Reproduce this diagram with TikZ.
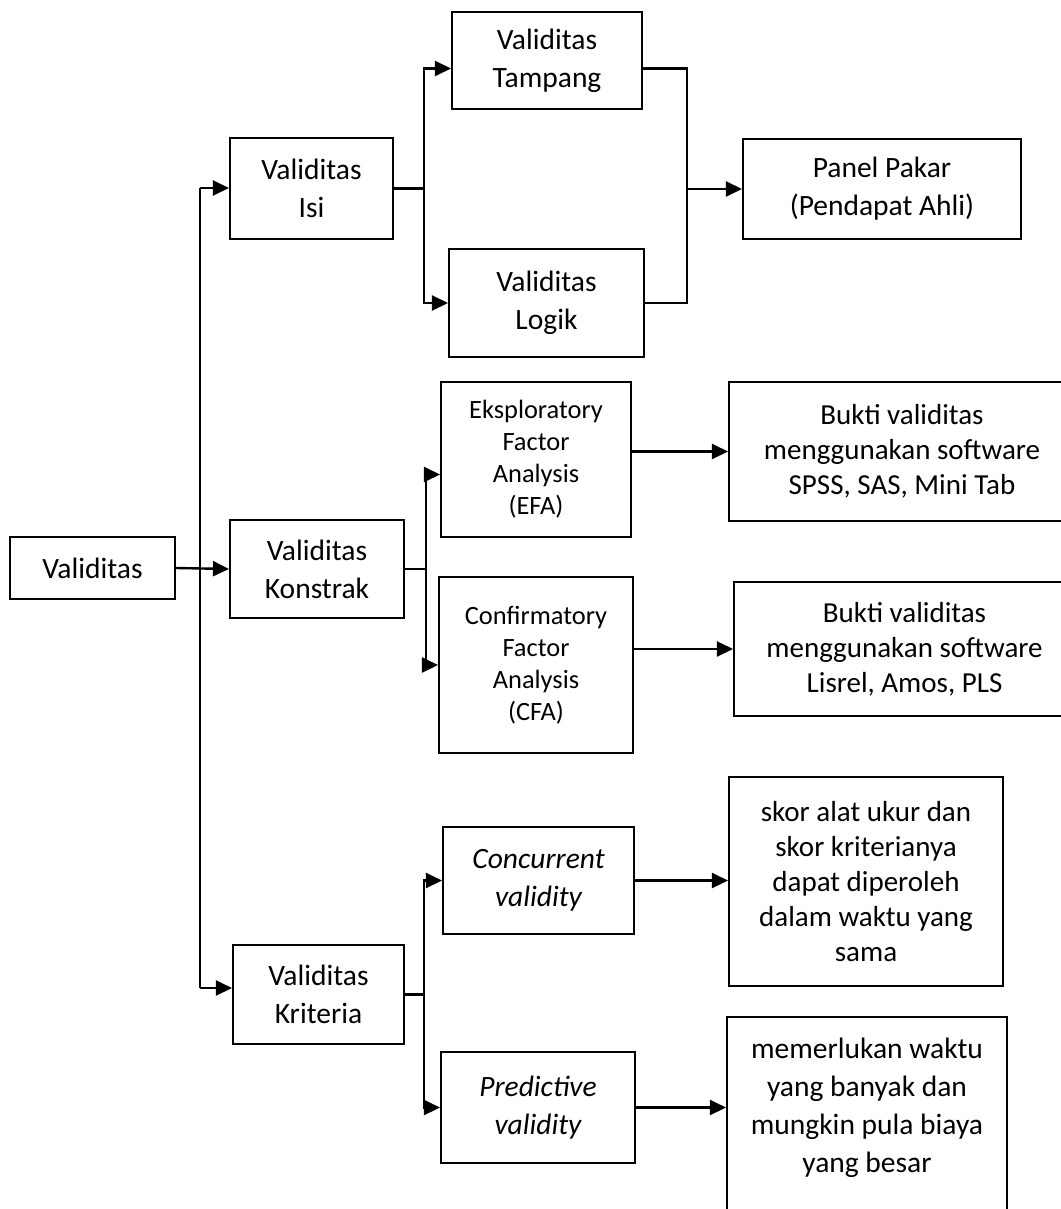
\documentclass[tikz,border=0pt]{standalone}
\usepackage{fontspec}
\setmainfont{Carlito}
\usepackage{tikz}
\usetikzlibrary{calc}
\usetikzlibrary{arrows.meta, positioning}

\tikzset{
  boxnode/.style={draw, line width=2.1pt, align=center, inner sep=2pt,
    font=\fontsize{29.5}{38}\selectfont},
  smalltext/.style={font=\fontsize{26.4}{32}\selectfont},
  longtext/.style={font=\fontsize{29}{35}\selectfont},
  conn/.style={line width=2.4pt},
  arr/.style={conn, -{Triangle[length=16pt,width=15pt]}}
}

\begin{document}
\begin{tikzpicture}[x=1pt,y=1pt,yscale=-1,xscale=1]
\useasboundingbox (0,0) rectangle (1060,1209);

% Text Node
\node [boxnode, minimum width=165, minimum height=62] (valid) at (92.5,568) {Validitas};
% Text Node
\node [boxnode, minimum width=163, minimum height=101] (isi) at (311.5,188.5) {Validitas\\Isi};
\node [boxnode, minimum width=174, minimum height=98] (konstrak) at (317,569) {Validitas\\Konstrak};
\node [boxnode, minimum width=171, minimum height=99] (kriteria) at (318.5,994.5) {Validitas\\Kriteria};
% Text Node
\node [boxnode, minimum width=190, minimum height=97] (tampang) at (547,60.5) {Validitas\\Tampang};
\node [boxnode, minimum width=195, minimum height=108] (logik) at (546.5,303) {Validitas\\Logik};
\node [boxnode, minimum width=278, minimum height=100] (panel) at (882,189) {Panel Pakar\\(Pendapat Ahli)};
% Text Node
\node [boxnode, smalltext, minimum width=190, minimum height=155] (efa) at (536,459.5) {Eksploratory\\Factor\\Analysis\\(EFA)};
\node [boxnode, smalltext, minimum width=194, minimum height=176] (cfa) at (536,665) {Confirmatory\\Factor\\Analysis\\(CFA)};
\node [boxnode, longtext, minimum width=346, minimum height=139] (bukti1) at (902,451.5) {Bukti validitas\\menggunakan software\\SPSS, SAS, Mini Tab};
\node [boxnode, longtext, minimum width=341, minimum height=134] (bukti2) at (904.5,649) {Bukti validitas\\menggunakan software\\Lisrel, Amos, PLS};
% Text Node
\node [boxnode, minimum width=191, minimum height=107] (concurrent) at (538.5,880.5) {\itshape Concurrent\\\itshape validity};
\node [boxnode, minimum width=194, minimum height=111] (predictive) at (538,1107.5) {\itshape Predictive\\\itshape validity};
\node [boxnode, longtext, minimum width=274, minimum height=209] (skor) at (866,881.5) {skor alat ukur dan\\skor kriterianya\\dapat diperoleh\\dalam waktu yang\\sama};
\node [boxnode, minimum width=280, minimum height=224, text depth=47pt, anchor=north] (biaya) at (867,1016) {memerlukan waktu\\yang banyak dan\\mungkin pula biaya\\yang besar};

% Junctions
\coordinate (trunkA) at (200,188);
\coordinate (trunkB) at (200,988);

%Straight Lines
\draw [arr] (valid.east) -- (konstrak.west);
\draw [conn] (trunkA) -- (trunkB);
\draw [arr] (trunkA) -- (trunkA -| isi.west);
\draw [arr] (trunkB) -- (trunkB -| kriteria.west);

%Straight Lines
\draw [arr] (isi.east) -- ++(30,0) coordinate (isiB) |- ([yshift=8pt]tampang.west);
\draw [arr] (isiB) |- (logik.west);
\draw [conn] ([yshift=8pt]tampang.east) -| ($(logik.east)+(42,0)$) coordinate (pJoin) -- (logik.east);
\draw [arr] (pJoin |- panel.west) -- (panel.west);

%Straight Lines
\draw [arr] (konstrak.east) -- ++(21,0) coordinate (kB) |- ([yshift=15pt]efa.west);
\draw [arr] (kB) |- (cfa.west);
\draw [arr] (efa.east |- bukti1.west) -- (bukti1.west);
\draw [arr] (cfa.east |- bukti2.west) -- (bukti2.west);

%Straight Lines
\draw [arr] (kriteria.east) -- ++(19,0) coordinate (rB) |- (concurrent.west);
\draw [arr] (rB) |- (predictive.west);
\draw [arr] (concurrent.east) -- (concurrent.east -| skor.west);
\draw [arr] (predictive.east) -- (predictive.east -| biaya.west);
\end{tikzpicture}
\end{document}
